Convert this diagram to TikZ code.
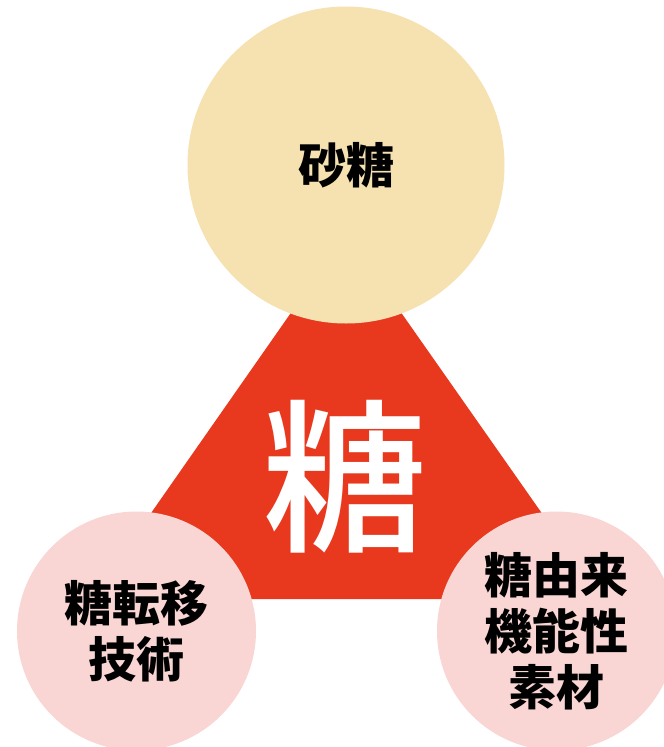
\documentclass[tikz,border=0pt]{standalone}
\usepackage{fontspec}
\newfontfamily\cjk{Noto Sans CJK JP}
\newfontfamily\cjkmed{Noto Sans CJK JP Medium}
\usetikzlibrary{positioning}
\definecolor{sugarred}{HTML}{E8391F}
\definecolor{sandtan}{HTML}{F6E1B1}
\definecolor{palepink}{HTML}{F9D6D3}
\tikzset{
  bubble/.style={circle, inner sep=0pt, minimum size=#1, align=center,
    font=\cjk\bfseries\fontsize{48}{56}\selectfont},
}

\begin{document}
\begin{tikzpicture}[x=1pt, y=-1pt]
\useasboundingbox (0,0) rectangle (664,747);
\coordinate (apex) at (346,234);
\coordinate (baseL) at (91,599);
\coordinate (baseR) at (602,599);
\fill[sugarred] (apex) -- (baseL) -- (baseR) -- cycle;
\node[bubble=317pt, fill=sandtan] (sugar) at (346,165) {砂糖};
\node[bubble=239pt, fill=palepink] (transfer) at (136.5,631) {糖転移\\技術};
\node[bubble=239pt, fill=palepink] (derived) at (556.5,631) {糖由来\\機能性\\素材};
\node[font=\cjkmed\fontsize{165}{165}\selectfont, text=white] (tou) at (345,477) {糖};
\end{tikzpicture}
\end{document}
